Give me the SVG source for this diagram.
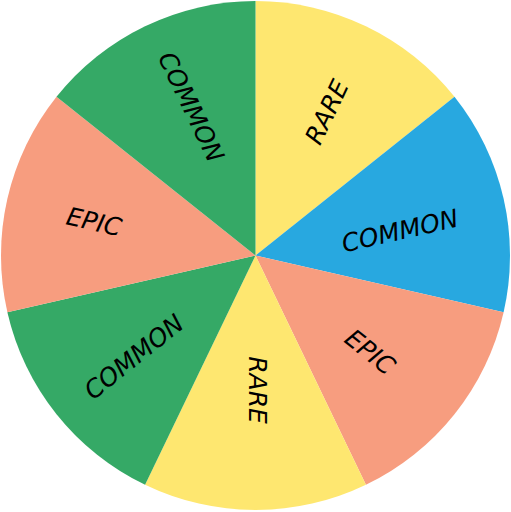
<svg xmlns="http://www.w3.org/2000/svg" width="511" height="512" viewBox="0 0 511 512">
<style>
.lbl{font-family:"DejaVu Sans","Noto Sans",sans-serif;font-size:25px;fill:#000;text-anchor:middle;dominant-baseline:central;font-style:italic}
.y{fill:#FEE770}.b{fill:#28A8E0}.s{fill:#F79D7F}.g{fill:#35A966}
</style>
<rect width="511" height="512" fill="#fff"/>
<g id="seg1"><path class="y" d="M255.5 255.5 L255.5 1 A254.5 254.5 0 0 1 454.48 96.82 Z"/><text class="lbl" transform="translate(327 112) rotate(-64.29)">RARE</text></g>
<g id="seg2"><path class="b" d="M255.5 255.5 L454.48 96.82 A254.5 254.5 0 0 1 503.62 312.13 Z"/><text class="lbl" transform="translate(400 231) rotate(-12.86)">COMMON</text></g>
<g id="seg3"><path class="s" d="M255.5 255.5 L503.62 312.13 A254.5 254.5 0 0 1 365.92 484.8 Z"/><text class="lbl" transform="translate(370 352) rotate(38.57)">EPIC</text></g>
<g id="seg4"><path class="y" d="M255.5 255.5 L365.92 484.8 A254.5 254.5 0 0 1 145.08 484.8 Z"/><text class="lbl" transform="translate(257 390) rotate(90)">RARE</text></g>
<g id="seg5"><path class="g" d="M255.5 255.5 L145.08 484.8 A254.5 254.5 0 0 1 7.38 312.13 Z"/><text class="lbl" transform="translate(134 357) rotate(-38.57)">COMMON</text></g>
<g id="seg6"><path class="s" d="M255.5 255.5 L7.38 312.13 A254.5 254.5 0 0 1 56.52 96.82 Z"/><text class="lbl" transform="translate(94 222) rotate(12.86)">EPIC</text></g>
<g id="seg7"><path class="g" d="M255.5 255.5 L56.52 96.82 A254.5 254.5 0 0 1 255.5 1 Z"/><text class="lbl" transform="translate(191 107) rotate(64.29)">COMMON</text></g>
<g id="connectors"/>
</svg>
